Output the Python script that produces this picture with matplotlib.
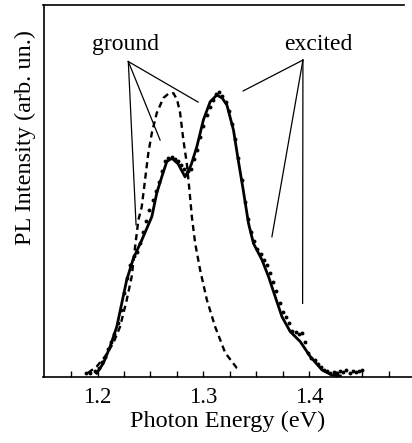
import matplotlib
matplotlib.use("Agg")
import matplotlib.pyplot as plt
import numpy as np

plt.rcParams["font.family"] = ["Liberation Serif", "DejaVu Serif"]

# fit (solid)
fit_e = [1.1992, 1.2055, 1.2118, 1.2182, 1.2229, 1.2276, 1.2339, 1.2418, 1.2513,
         1.2560, 1.2607, 1.2654, 1.2702, 1.2761, 1.2827, 1.2884, 1.2938, 1.3000,
         1.3064, 1.3127, 1.3177, 1.3222, 1.3284, 1.3329, 1.3376, 1.3426, 1.3473,
         1.3553, 1.3615, 1.3678, 1.3742, 1.3820, 1.3915, 1.4009, 1.4120, 1.4215,
         1.4293]
fit_i = [0.010, 0.037, 0.081, 0.135, 0.198, 0.261, 0.319, 0.368, 0.431,
         0.495, 0.538, 0.579, 0.588, 0.573, 0.538, 0.570, 0.619, 0.691,
         0.740, 0.758, 0.750, 0.731, 0.664, 0.583, 0.503, 0.413, 0.359,
         0.315, 0.270, 0.216, 0.162, 0.122, 0.095, 0.055, 0.019, 0.005,
         0.003]

# ground-state component (dashed)
gnd_e = [1.1910, 1.1992, 1.2071, 1.2149, 1.2213, 1.2276, 1.2323, 1.2355, 1.2386,
         1.2418, 1.2449, 1.2480, 1.2513, 1.2560, 1.2622, 1.2667, 1.2717, 1.2752,
         1.2780, 1.2811, 1.2843, 1.2868, 1.2891, 1.2922, 1.2969, 1.3033, 1.3111,
         1.3206, 1.3316, 1.3348]
gnd_i = [0.011, 0.028, 0.055, 0.091, 0.135, 0.207, 0.270, 0.350, 0.422,
         0.458, 0.530, 0.602, 0.656, 0.710, 0.750, 0.761, 0.763, 0.745,
         0.710, 0.637, 0.575, 0.503, 0.431, 0.360, 0.288, 0.207, 0.135,
         0.065, 0.024, 0.019]

# measured spectrum (dots)
data_e = [1.189, 1.193, 1.198, 1.201, 1.204, 1.207, 1.210, 1.213, 1.216, 1.219,
          1.222, 1.225, 1.228, 1.231, 1.234, 1.237, 1.240, 1.243, 1.246, 1.249,
          1.252, 1.255, 1.258, 1.261, 1.264, 1.267, 1.270, 1.273, 1.276, 1.279,
          1.282, 1.285, 1.288, 1.291, 1.294, 1.297, 1.300, 1.303, 1.306, 1.309,
          1.312, 1.315, 1.318, 1.321, 1.324, 1.327, 1.330, 1.333, 1.336, 1.339,
          1.342, 1.345, 1.348, 1.351, 1.354, 1.357, 1.360, 1.363, 1.366, 1.369,
          1.372, 1.375, 1.378, 1.381, 1.384, 1.387, 1.390, 1.393, 1.396, 1.399,
          1.402, 1.405, 1.408, 1.411, 1.414, 1.417, 1.420, 1.423, 1.426, 1.429,
          1.432, 1.435, 1.438, 1.441, 1.444, 1.447, 1.450]
data_i = [0.010, 0.012, 0.015, 0.025, 0.040, 0.055, 0.075, 0.095, 0.115, 0.145,
          0.180, 0.225, 0.265, 0.300, 0.325, 0.335, 0.360, 0.390, 0.420, 0.450,
          0.475, 0.500, 0.525, 0.555, 0.580, 0.590, 0.592, 0.585, 0.580, 0.570,
          0.560, 0.555, 0.560, 0.585, 0.610, 0.645, 0.675, 0.705, 0.725, 0.745,
          0.760, 0.765, 0.755, 0.740, 0.715, 0.680, 0.640, 0.590, 0.530, 0.470,
          0.425, 0.390, 0.365, 0.345, 0.330, 0.315, 0.300, 0.280, 0.255, 0.230,
          0.200, 0.175, 0.160, 0.145, 0.125, 0.120, 0.115, 0.118, 0.095, 0.065,
          0.050, 0.045, 0.035, 0.028, 0.020, 0.015, 0.012, 0.014, 0.012, 0.015,
          0.014, 0.018, 0.012, 0.016, 0.014, 0.015, 0.018]

# annotation pointer lines: label, text pos, anchor, line ends
ground_text = (1.2260, 0.879)
ground_anchor = (1.2291, 0.848)
ground_ends = [(1.2950, 0.739), (1.2591, 0.637), (1.2364, 0.409)]
excited_text = (1.4085, 0.879)
excited_anchor = (1.3940, 0.852)
excited_ends = [(1.3376, 0.769), (1.3647, 0.377), (1.3937, 0.198)]

major_ticks = [1.2, 1.3, 1.4]
minor_ticks = [1.175, 1.225, 1.25, 1.275, 1.325, 1.35, 1.375, 1.425, 1.45, 1.475]

fig = plt.figure(figsize=(4.12, 4.43), dpi=100)
ax = fig.add_axes([43.5 / 412, 1 - 377 / 443, 1 - 43.5 / 412, 372 / 443])

ax.plot(data_e, data_i, "o", color="black", markersize=2.8, markeredgewidth=0)
ax.plot(fit_e, fit_i, "-", color="black", linewidth=2.0)
ax.plot(gnd_e, gnd_i, color="black", linewidth=1.7, linestyle=(0, (2.6, 1.8)))

for (ex, ey) in ground_ends:
    ax.plot([ground_anchor[0], ex], [ground_anchor[1], ey], color="black", linewidth=0.9)
for (ex, ey) in excited_ends:
    ax.plot([excited_anchor[0], ex], [excited_anchor[1], ey], color="black", linewidth=0.9)
ax.text(*ground_text, "ground", ha="center", va="baseline", fontsize=17)
ax.text(*excited_text, "excited", ha="center", va="baseline", fontsize=17)

ax.set_xlim(1.149, 1.497)
ax.set_ylim(0, 1)
ax.set_xticks(major_ticks)
ax.set_xticklabels(["1.2", "1.3", "1.4"])
ax.set_xticks(minor_ticks, minor=True)
ax.set_yticks([])
ax.tick_params(axis="x", which="both", direction="in", length=4, width=1,
               labelsize=16.5, pad=7)
ax.spines["right"].set_visible(False)
ax.spines["top"].set_bounds(1.149, 1.489)
for s in ax.spines.values():
    s.set_linewidth(1.2)

ax.set_xlabel("Photon Energy (eV)", fontsize=17.5, labelpad=2)
ax.set_ylabel("PL Intensity (arb. un.)", fontsize=17.5)
ax.yaxis.set_label_coords(-0.021, 0.644)

fig.savefig("out.png", dpi=100)
